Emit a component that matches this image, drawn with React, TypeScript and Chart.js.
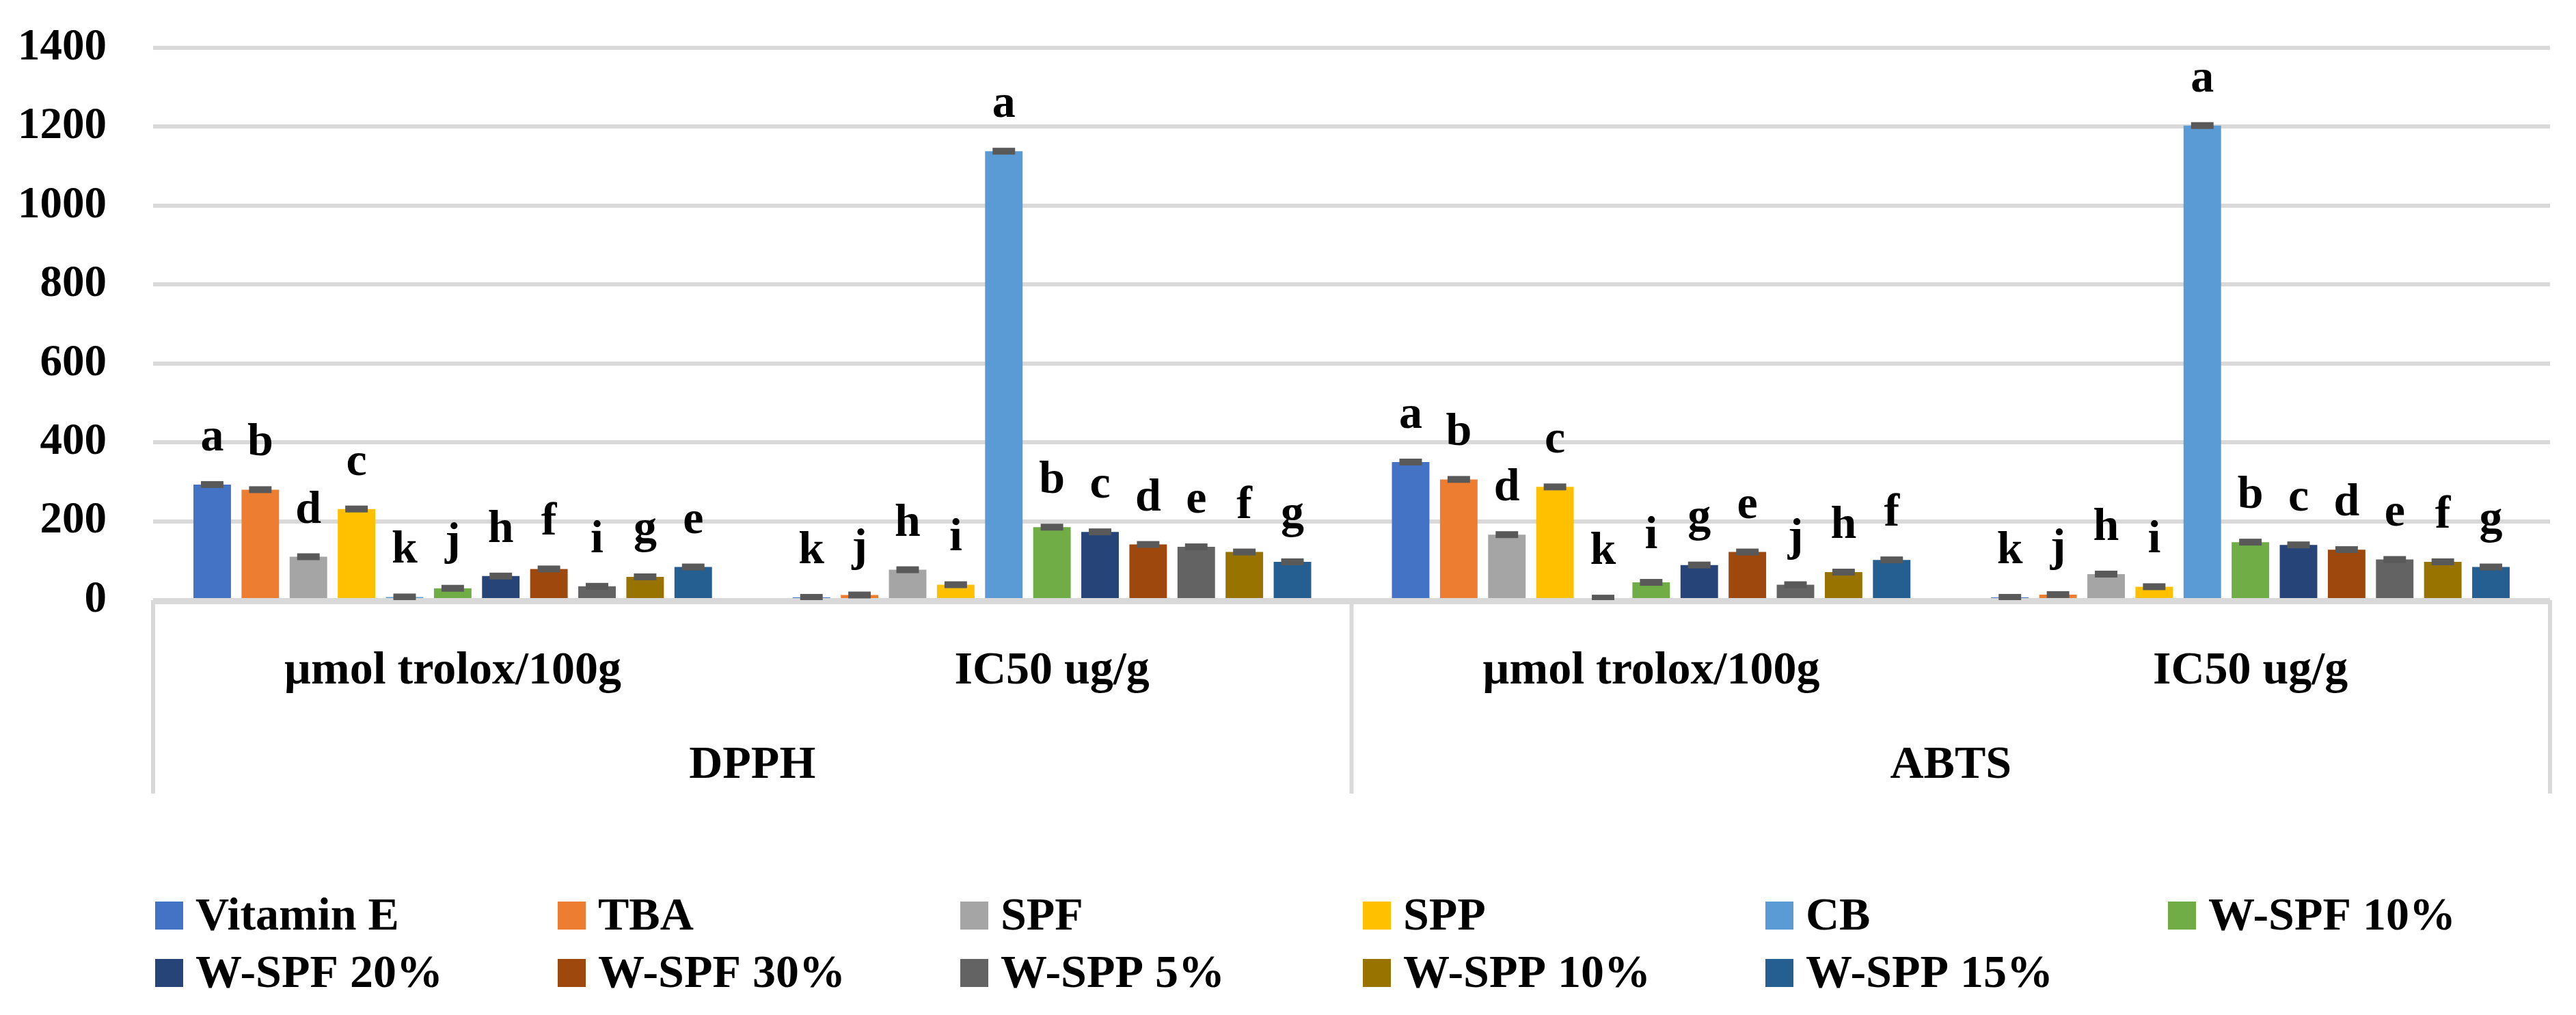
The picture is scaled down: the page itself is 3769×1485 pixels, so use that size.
import React, { useEffect, useRef } from 'react';
import { Chart, registerables } from 'chart.js';

Chart.register(...registerables);

const FONT = "'Liberation Serif', 'Times New Roman', serif";

// Inner categories (assay unit) and outer groups (assay)
const categories = ['µmol trolox/100g', 'IC50 ug/g', 'µmol trolox/100g', 'IC50 ug/g'];
const groups = ['DPPH', 'ABTS'];

// Y axis
const yMin = 0;
const yMax = 1400;
const yStep = 200;

// Series names and colours
const seriesNames = [
  'Vitamin E', 'TBA', 'SPF', 'SPP', 'CB', 'W-SPF 10%',
  'W-SPF 20%', 'W-SPF 30%', 'W-SPP 5%', 'W-SPP 10%', 'W-SPP 15%',
];
const seriesColors = [
  '#4472C4', '#ED7D31', '#A5A5A5', '#FFC000', '#5B9BD5', '#70AD47',
  '#264478', '#9E480E', '#636363', '#997300', '#255E91',
];

// Values: [DPPH µmol, DPPH IC50, ABTS µmol, ABTS IC50]
const vitaminE = [293, 7, 350, 7];
const tba = [280, 13, 306, 14];
const spf = [110, 77, 166, 66];
const spp = [231, 39, 287, 34];
const cb = [8, 1138, 5, 1203];
const wSpf10 = [30, 185, 45, 147];
const wSpf20 = [61, 173, 89, 140];
const wSpf30 = [79, 141, 122, 128];
const wSpp5 = [35, 135, 39, 103];
const wSpp10 = [59, 122, 71, 97];
const wSpp15 = [84, 97, 102, 84];

// Standard deviations (small)
const vitaminESd = [5, 1, 5, 1];
const tbaSd = [5, 2, 4, 2];
const spfSd = [4, 3, 4, 3];
const sppSd = [4, 2, 4, 2];
const cbSd = [1, 6, 1, 5];
const wSpf10Sd = [2, 4, 2, 3];
const wSpf20Sd = [3, 4, 3, 3];
const wSpf30Sd = [3, 3, 3, 3];
const wSpp5Sd = [2, 3, 2, 3];
const wSpp10Sd = [3, 3, 3, 2];
const wSpp15Sd = [3, 2, 3, 2];

// Significance letters
const vitaminELet = ['a', 'k', 'a', 'k'];
const tbaLet = ['b', 'j', 'b', 'j'];
const spfLet = ['d', 'h', 'd', 'h'];
const sppLet = ['c', 'i', 'c', 'i'];
const cbLet = ['k', 'a', 'k', 'a'];
const wSpf10Let = ['j', 'b', 'i', 'b'];
const wSpf20Let = ['h', 'c', 'g', 'c'];
const wSpf30Let = ['f', 'd', 'e', 'd'];
const wSpp5Let = ['i', 'e', 'j', 'e'];
const wSpp10Let = ['g', 'f', 'h', 'f'];
const wSpp15Let = ['e', 'g', 'f', 'g'];

const seriesValues = [vitaminE, tba, spf, spp, cb, wSpf10, wSpf20, wSpf30, wSpp5, wSpp10, wSpp15];
const seriesSd = [vitaminESd, tbaSd, spfSd, sppSd, cbSd, wSpf10Sd, wSpf20Sd, wSpf30Sd, wSpp5Sd, wSpp10Sd, wSpp15Sd];
const seriesLetters = [vitaminELet, tbaLet, spfLet, sppLet, cbLet, wSpf10Let, wSpf20Let, wSpf30Let, wSpp5Let, wSpp10Let, wSpp15Let];

export default function App() {
  const ref = useRef<HTMLCanvasElement>(null);

  useEffect(() => {
    document.body.style.margin = '0';
    const canvas = ref.current;
    if (!canvas) return;

    const datasets = seriesNames.map((name, i) => ({
      label: name,
      data: seriesValues[i],
      backgroundColor: seriesColors[i],
      borderWidth: 0,
      categoryPercentage: 0.883,
      barPercentage: 0.78,
      xAxisID: 'x',
      yAxisID: 'y',
    }));

    const overlay = {
      id: 'overlay',
      afterDatasetsDraw(chart: any) {
        const ctx = chart.ctx;
        const yScale = chart.scales.y;
        ctx.save();
        chart.data.datasets.forEach((ds: any, di: number) => {
          const meta = chart.getDatasetMeta(di);
          meta.data.forEach((bar: any, i: number) => {
            const v = ds.data[i];
            const sd = seriesSd[di][i];
            const w = bar.width * 0.6;
            let yTop = yScale.getPixelForValue(v + sd);
            let yBot = yScale.getPixelForValue(v - sd);
            const mid = (yTop + yBot) / 2;
            if (yBot - yTop < 10) {
              yTop = mid - 5;
              yBot = mid + 5;
            }
            ctx.fillStyle = '#595959';
            ctx.fillRect(bar.x - w / 2, yTop, w, yBot - yTop);
            ctx.fillStyle = '#000';
            ctx.font = `bold 68px ${FONT}`;
            ctx.textAlign = 'center';
            ctx.textBaseline = 'alphabetic';
            ctx.fillText(seriesLetters[di][i], bar.x, bar.y - 50);
          });
        });
        ctx.restore();
      },
      afterDraw(chart: any) {
        const ctx = chart.ctx;
        const area = chart.chartArea;
        const x = chart.scales.x;
        const x2 = chart.scales.x2;
        ctx.save();
        ctx.strokeStyle = '#d9d9d9';
        ctx.lineWidth = 6;
        const midX = (x.getPixelForValue(1) + x.getPixelForValue(2)) / 2;
        [area.left, midX, area.right].forEach((px) => {
          ctx.beginPath();
          ctx.moveTo(px, area.bottom);
          ctx.lineTo(px, x2.bottom);
          ctx.stroke();
        });
        ctx.beginPath();
        ctx.moveTo(area.left - 3, area.bottom + 3);
        ctx.lineTo(area.right + 3, area.bottom + 3);
        ctx.stroke();
        // legend
        const top = x2.bottom;
        ctx.font = `bold 68px ${FONT}`;
        ctx.textAlign = 'left';
        ctx.textBaseline = 'alphabetic';
        chart.data.datasets.forEach((ds: any, i: number) => {
          const col = i % 6;
          const row = Math.floor(i / 6);
          const lx = area.left + 3 + col * 589;
          const base = top + 199 + row * 84;
          ctx.fillStyle = ds.backgroundColor;
          ctx.fillRect(lx, base - 41, 41, 41);
          ctx.fillStyle = '#000';
          ctx.fillText(ds.label, lx + 59, base);
        });
        ctx.restore();
      },
    };

    const tickFont = { family: FONT, size: 68, weight: 'bold' as const };

    const chart = new Chart(canvas, {
      type: 'bar',
      data: { labels: categories, datasets },
      options: {
        responsive: false,
        animation: false,
        devicePixelRatio: 1,
        layout: { padding: { left: 0, right: 38, top: 70, bottom: 324 } },
        plugins: {
          legend: { display: false },
          tooltip: { enabled: false },
        },
        scales: {
          x: {
            type: 'category',
            position: 'bottom',
            offset: true,
            grid: { display: false },
            border: { display: false },
            ticks: { color: '#000', font: tickFont, padding: 56, maxRotation: 0, autoSkip: false },
            afterFit: (s: any) => { s.height = 150; s.paddingLeft = 0; s.paddingRight = 0; },
          },
          x2: {
            type: 'category',
            labels: groups,
            position: 'bottom',
            offset: true,
            grid: { display: false },
            border: { display: false },
            ticks: { color: '#000', font: tickFont, padding: 44, maxRotation: 0, autoSkip: false },
            afterFit: (s: any) => { s.height = 133; s.paddingLeft = 0; s.paddingRight = 0; },
          },
          y: {
            min: yMin,
            max: yMax,
            ticks: {
              stepSize: yStep,
              color: '#000',
              font: { family: FONT, size: 65, weight: 'bold' },
              padding: 68,
              callback: (v: any) => String(v),
            },
            grid: { color: '#d9d9d9', lineWidth: 6, drawTicks: false },
            border: { display: false },
            afterFit: (s: any) => { s.width = 224; s.paddingTop = 0; s.paddingBottom = 0; },
          },
        },
      } as any,
      plugins: [overlay],
    });

    return () => chart.destroy();
  }, []);

  return (
    <div style={{ width: 3769, height: 1485 }}>
      <canvas ref={ref} width={3769} height={1485} style={{ display: 'block' }} />
    </div>
  );
}
